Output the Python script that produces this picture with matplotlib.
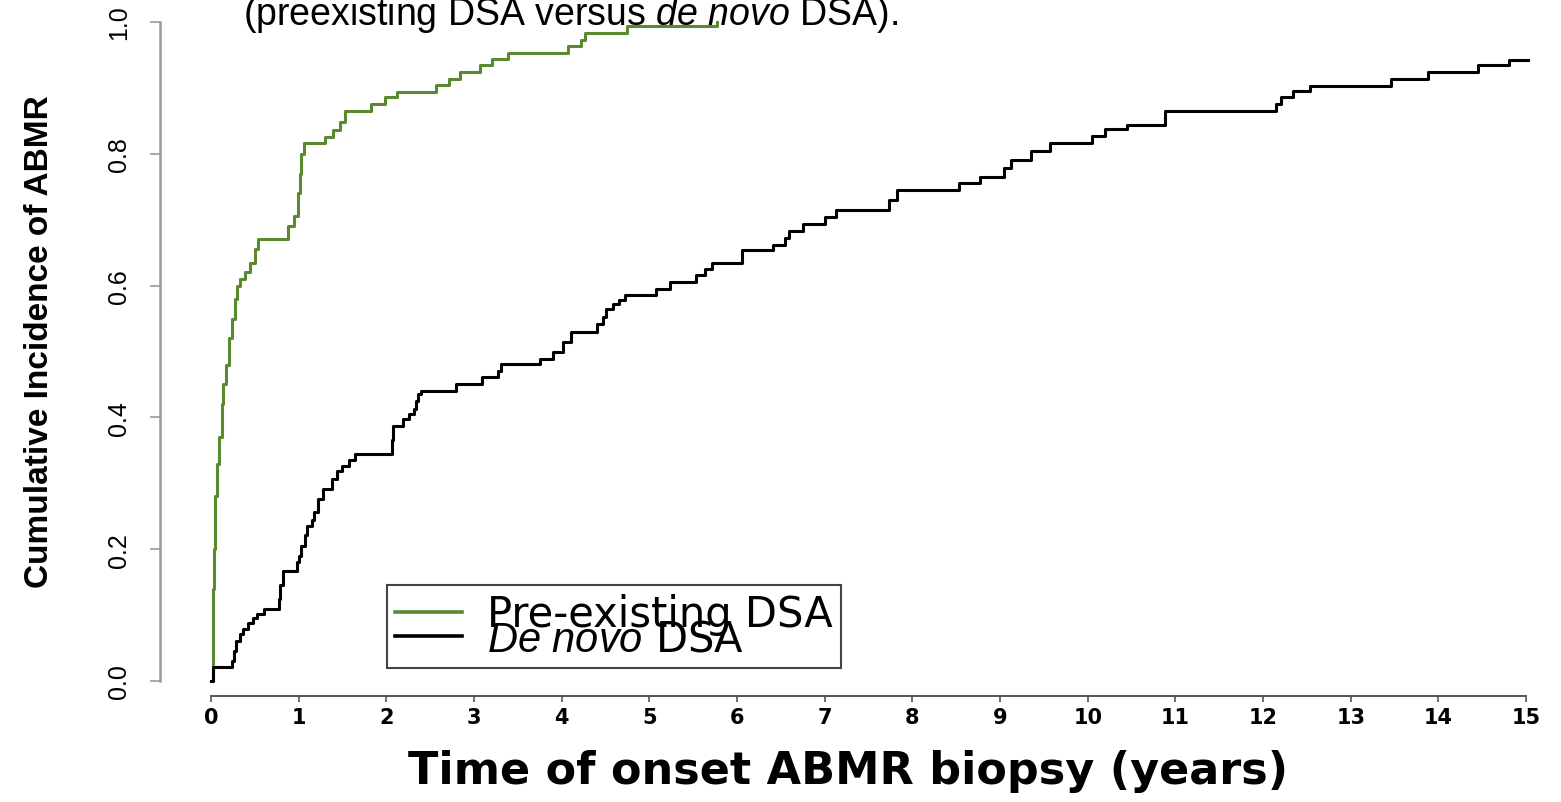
import numpy as np
import matplotlib
matplotlib.use("Agg")
import matplotlib.pyplot as plt

plt.rcParams['font.family'] = ['Liberation Sans', 'DejaVu Sans']
plt.rcParams['mathtext.fontset'] = 'custom'
plt.rcParams['mathtext.rm'] = 'Liberation Sans'
plt.rcParams['mathtext.it'] = 'Liberation Sans:italic'

# pre-existing DSA (step curve, where='post')
pre_t = [0, 0.02, 0.03, 0.04, 0.05, 0.07, 0.09, 0.12, 0.14, 0.17, 0.20, 0.24, 0.27,
         0.30, 0.33, 0.39, 0.44, 0.50, 0.54, 0.88, 0.95, 0.99, 1.01, 1.03, 1.06,
         1.30, 1.39, 1.47, 1.53, 1.83, 1.98, 2.12, 2.57, 2.71, 2.84, 3.07, 3.20,
         3.39, 4.07, 4.22, 4.27, 4.74, 5.77]
pre_ci = [0, 0.14, 0.20, 0.25, 0.28, 0.33, 0.37, 0.42, 0.45, 0.48, 0.52, 0.55, 0.58,
          0.60, 0.61, 0.62, 0.635, 0.655, 0.67, 0.69, 0.705, 0.74, 0.77, 0.80, 0.817,
          0.826, 0.836, 0.848, 0.865, 0.875, 0.886, 0.894, 0.904, 0.914, 0.924, 0.934, 0.944,
          0.953, 0.964, 0.973, 0.983, 0.994, 1.0]

# de novo DSA
dn_t = [0, 0.02, 0.24, 0.26, 0.29, 0.33, 0.37, 0.42, 0.48, 0.53, 0.60, 0.77, 0.79,
        0.82, 0.98, 1.00, 1.03, 1.07, 1.10, 1.15, 1.18, 1.22, 1.28, 1.38, 1.44,
        1.49, 1.57, 1.64, 2.06, 2.08, 2.19, 2.26, 2.31, 2.34, 2.36, 2.40, 2.80,
        3.09, 3.27, 3.31, 3.75, 3.90, 4.02, 4.11, 4.40, 4.47, 4.51, 4.59, 4.65,
        4.72, 5.08, 5.23, 5.53, 5.64, 5.71, 6.06, 6.41, 6.55, 6.59, 6.75, 7.00,
        7.13, 7.73, 7.83, 8.53, 8.77, 9.04, 9.12, 9.35, 9.57, 10.05, 10.20, 10.45,
        10.88, 12.15, 12.20, 12.34, 12.53, 13.46, 13.88, 14.45, 14.81, 15.02]
dn_ci = [0, 0.021, 0.03, 0.045, 0.06, 0.072, 0.079, 0.088, 0.095, 0.102, 0.109, 0.125, 0.145,
         0.167, 0.18, 0.19, 0.205, 0.222, 0.235, 0.245, 0.256, 0.276, 0.291, 0.306, 0.318,
         0.326, 0.335, 0.344, 0.365, 0.387, 0.397, 0.405, 0.413, 0.425, 0.435, 0.44, 0.45,
         0.461, 0.471, 0.481, 0.489, 0.50, 0.514, 0.53, 0.542, 0.553, 0.564, 0.572, 0.578,
         0.585, 0.595, 0.605, 0.616, 0.625, 0.634, 0.654, 0.662, 0.672, 0.683, 0.693, 0.704,
         0.714, 0.73, 0.745, 0.756, 0.765, 0.778, 0.791, 0.804, 0.816, 0.827, 0.838, 0.844,
         0.865, 0.876, 0.886, 0.896, 0.903, 0.913, 0.924, 0.934, 0.943, 0.943]

xticks = list(range(16))
yticks = [0.0, 0.2, 0.4, 0.6, 0.8, 1.0]
ytick_labels = ["0.0", "0.2", "0.4", "0.6", "0.8", "1.0"]

green = '#5a8a30'

fig = plt.figure(figsize=(15.61, 8.03), dpi=100)
ax = fig.add_axes([0, 0, 1, 1])
ax.patch.set_alpha(0)

ax.step(pre_t, pre_ci, where='post', color=green, lw=2.2, label='Pre-existing DSA')
ax.step(dn_t, dn_ci, where='post', color='black', lw=2.2, label=r'$\it{De\ novo}$ DSA')

# pixel layout: x=0 at 211px, x=15 at 1526px; y=0 at 682px, y=1 at 23px
ax.set_xlim(-211 / 87.67, (1561 - 211) / 87.67)
ax.set_ylim(-(803 - 682) / 659, 682 / 659)

for s in ['top', 'right']:
    ax.spines[s].set_visible(False)
ax.spines['left'].set_position(('data', -0.582))
ax.spines['left'].set_bounds(0, 1)
ax.spines['left'].set_color('#9a9a9a')
ax.spines['left'].set_linewidth(1.8)
ax.spines['bottom'].set_position(('data', -0.023))
ax.spines['bottom'].set_bounds(0, 15)
ax.spines['bottom'].set_color('#555555')
ax.spines['bottom'].set_linewidth(1.4)

ax.set_xticks(xticks)
ax.set_xticklabels([str(t) for t in xticks], fontsize=15, fontweight='bold',
                   family=['DejaVu Sans'])
ax.tick_params(axis='x', length=4, width=1.2, color='#555555', pad=4)
ax.set_yticks(yticks)
ax.set_yticklabels(ytick_labels, rotation=90, va='center', fontsize=18)
ax.tick_params(axis='y', length=7, width=1.2, color='#9a9a9a', pad=14)

fig.text(40 / 1561, 1 - 342 / 803, 'Cumulative Incidence of ABMR', rotation=90,
         ha='center', va='center', fontsize=24, fontweight='bold')
fig.text(848 / 1561, 1 - 772 / 803, 'Time of onset ABMR biopsy (years)',
         ha='center', va='center', fontsize=32, fontweight='bold',
         family=['DejaVu Sans'])

fig.text(243 / 1561, 1 - 25 / 803,
         r'(preexisting DSA versus $\it{de\ novo}$ DSA).',
         ha='left', va='baseline', fontsize=27)

leg = ax.legend(loc='upper left', bbox_to_anchor=(387 / 1561, 1 - 586 / 803),
                bbox_transform=fig.transFigure, fancybox=False, framealpha=1,
                edgecolor='#444444', fontsize=30, labelspacing=-0.42,
                handlelength=1.6, handletextpad=0.6, borderpad=0.2,
                borderaxespad=0)
leg.get_frame().set_linewidth(1.5)
for t in leg.get_texts():
    t.set_family(['DejaVu Sans'])
for h in leg.get_lines():
    h.set_linewidth(2.6)

fig.savefig('out.png', dpi=100)
